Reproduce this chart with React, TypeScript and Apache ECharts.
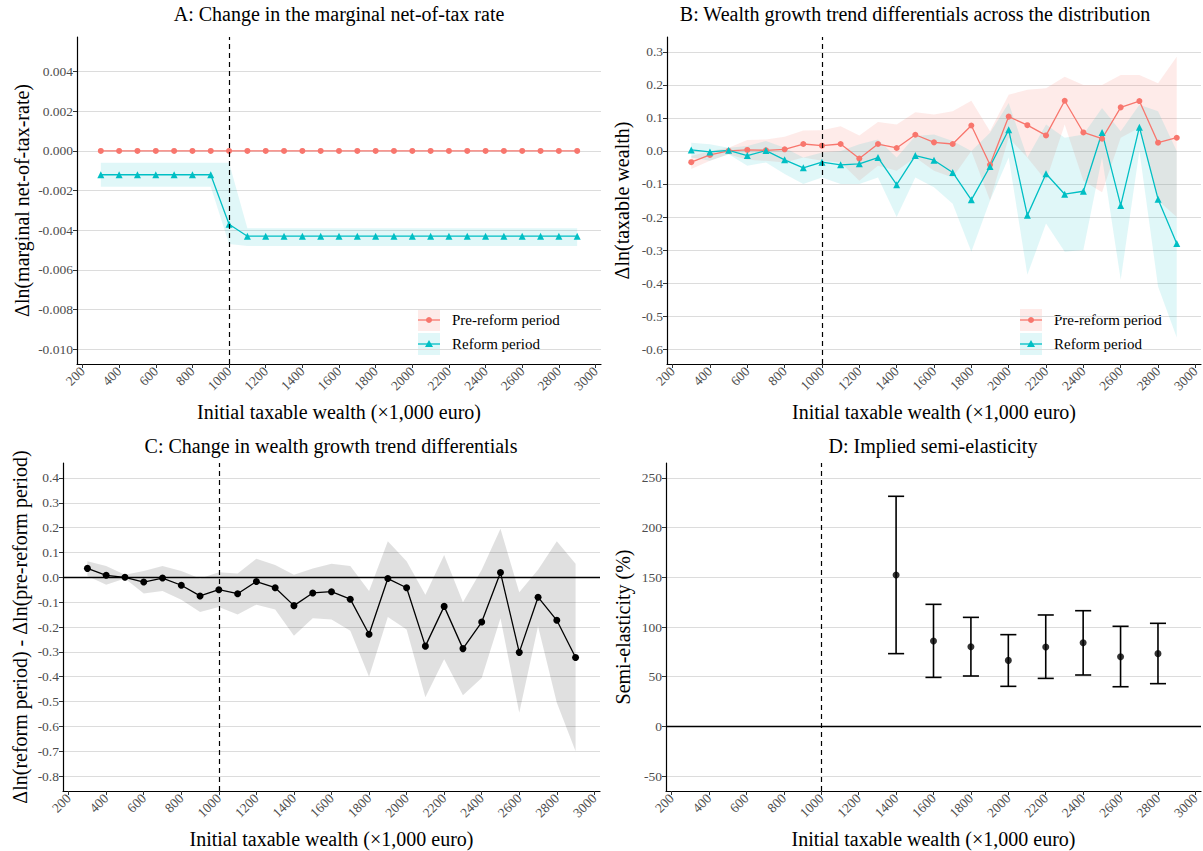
import React, { useEffect, useRef } from 'react';
import * as echarts from 'echarts';

// ---------- data ----------
const xs = [300, 400, 500, 600, 700, 800, 900, 1000, 1100, 1200, 1300, 1400, 1500, 1600, 1700, 1800, 1900, 2000, 2100, 2200, 2300, 2400, 2500, 2600, 2700, 2800, 2900];
const xTicks = [200, 400, 600, 800, 1000, 1200, 1400, 1600, 1800, 2000, 2200, 2400, 2600, 2800, 3000];

// Panel A
const preA = [0, 0, 0, 0, 0, 0, 0, 0, 0, 0, 0, 0, 0, 0, 0, 0, 0, 0, 0, 0, 0, 0, 0, 0, 0, 0, 0];
const reformA = [-0.0012, -0.0012, -0.0012, -0.0012, -0.0012, -0.0012, -0.0012, -0.0037, -0.0043, -0.0043, -0.0043, -0.0043, -0.0043, -0.0043, -0.0043, -0.0043, -0.0043, -0.0043, -0.0043, -0.0043, -0.0043, -0.0043, -0.0043, -0.0043, -0.0043, -0.0043, -0.0043];
const reformAHi = [-0.0006, -0.0006, -0.0006, -0.0006, -0.0006, -0.0006, -0.0006, -0.0006, -0.0039, -0.0039, -0.0039, -0.0039, -0.0039, -0.0039, -0.0039, -0.0039, -0.0039, -0.0039, -0.0039, -0.0039, -0.0039, -0.0039, -0.0039, -0.0039, -0.0039, -0.0039, -0.0039];
const reformALo = [-0.0018, -0.0018, -0.0018, -0.0018, -0.0018, -0.0018, -0.0018, -0.0047, -0.0048, -0.0048, -0.0048, -0.0048, -0.0048, -0.0048, -0.0048, -0.0048, -0.0048, -0.0048, -0.0048, -0.0048, -0.0048, -0.0048, -0.0048, -0.0048, -0.0048, -0.0048, -0.0048];
const yTicksA = [-0.01, -0.008, -0.006, -0.004, -0.002, 0, 0.002, 0.004];

// Panel B
const preB = [-0.034, -0.012, 0.0, 0.003, 0.002, 0.005, 0.021, 0.016, 0.021, -0.023, 0.021, 0.009, 0.049, 0.026, 0.021, 0.077, -0.042, 0.104, 0.078, 0.047, 0.152, 0.056, 0.037, 0.132, 0.151, 0.025, 0.04];
const preBHi = [-0.015, 0.0, 0.01, 0.033, 0.035, 0.043, 0.062, 0.063, 0.075, 0.047, 0.088, 0.08, 0.117, 0.11, 0.12, 0.152, 0.06, 0.17, 0.185, 0.19, 0.225, 0.2, 0.2, 0.23, 0.23, 0.205, 0.285];
const preBLo = [-0.055, -0.03, -0.01, -0.027, -0.03, -0.035, -0.02, -0.03, -0.035, -0.09, -0.045, -0.06, -0.02, -0.06, -0.08, 0.0, -0.15, 0.04, -0.02, -0.09, 0.08, -0.09, -0.125, 0.04, 0.07, -0.15, -0.2];
const reformB = [0.003, -0.003, 0.002, -0.014, 0.001, -0.027, -0.051, -0.034, -0.042, -0.039, -0.02, -0.102, -0.014, -0.028, -0.065, -0.148, -0.047, 0.064, -0.195, -0.069, -0.131, -0.122, 0.056, -0.165, 0.072, -0.146, -0.28];
const reformBHi = [0.025, 0.02, 0.01, 0.015, 0.03, 0.01, -0.02, -0.005, 0.0, 0.02, 0.035, -0.02, 0.045, 0.05, 0.03, 0.0, 0.055, 0.145, -0.02, 0.08, 0.04, 0.05, 0.13, 0.06, 0.14, 0.12, 0.0];
const reformBLo = [-0.02, -0.03, -0.01, -0.045, -0.035, -0.07, -0.1, -0.08, -0.1, -0.1, -0.08, -0.2, -0.08, -0.11, -0.16, -0.305, -0.15, -0.02, -0.375, -0.22, -0.305, -0.3, -0.02, -0.39, 0.0, -0.41, -0.565];
const yTicksB = [-0.6, -0.5, -0.4, -0.3, -0.2, -0.1, 0, 0.1, 0.2, 0.3];

// Panel C
const diffC = [0.036, 0.008, 0.0, -0.019, -0.003, -0.032, -0.075, -0.05, -0.066, -0.017, -0.042, -0.114, -0.063, -0.058, -0.088, -0.229, -0.005, -0.042, -0.277, -0.117, -0.287, -0.18, 0.019, -0.302, -0.08, -0.173, -0.323];
const diffCHi = [0.065, 0.045, 0.01, 0.025, 0.045, 0.025, -0.005, 0.02, 0.015, 0.075, 0.05, 0.01, 0.035, 0.055, 0.045, -0.055, 0.145, 0.065, -0.07, 0.09, -0.1, 0.03, 0.195, -0.06, 0.03, 0.145, 0.055];
const diffCLo = [0.005, -0.03, -0.005, -0.065, -0.055, -0.09, -0.14, -0.12, -0.15, -0.11, -0.13, -0.235, -0.165, -0.17, -0.215, -0.4, -0.16, -0.21, -0.483, -0.33, -0.475, -0.405, -0.165, -0.545, -0.197, -0.505, -0.7];
const yTicksC = [-0.8, -0.7, -0.6, -0.5, -0.4, -0.3, -0.2, -0.1, 0, 0.1, 0.2, 0.3, 0.4];

// Panel D
const xsD = [1400, 1600, 1800, 2000, 2200, 2400, 2600, 2800];
const elastD = [152.3, 85.9, 80.2, 66.4, 79.9, 84.2, 70.1, 73.2];
const elastDHi = [231.5, 122.8, 109.7, 92.3, 112.1, 116.4, 100.7, 103.7];
const elastDLo = [73.2, 49.3, 50.7, 40.3, 48.3, 51.7, 39.9, 43.0];
const yTicksD = [-50, 0, 50, 100, 150, 200, 250];

// ---------- styling ----------
const FONT = '"Liberation Serif", "Times New Roman", serif';
const RED = '#F8766D';
const CYAN = '#00BFC4';
const RED_FILL = 'rgba(248,118,109,0.15)';
const CYAN_FILL = 'rgba(0,191,196,0.12)';
const GREY_FILL = 'rgba(0,0,0,0.12)';
const X_NAME = 'Initial taxable wealth (×1,000 euro)';

const grids = [
  { left: 77, top: 37, width: 524, height: 327 },
  { left: 667, top: 37, width: 534, height: 327 },
  { left: 63, top: 463, width: 537, height: 328 },
  { left: 666, top: 463, width: 535, height: 328 },
];

function xAxisOf(i: number) {
  return {
    type: 'value', gridIndex: i, min: 170, max: 3030,
    name: X_NAME, nameLocation: 'middle', nameGap: 38,
    nameTextStyle: { fontFamily: FONT, fontSize: 20, color: '#000' },
    axisLine: { onZero: false, lineStyle: { color: '#000', width: 1.2 } },
    axisTick: { show: true, length: 4, customValues: xTicks, lineStyle: { color: '#333', width: 1 } },
    axisLabel: {
      customValues: xTicks, rotate: 45, margin: 5, fontFamily: FONT, fontSize: 13.5, color: '#4d4d4d',
      formatter: (v: number) => String(v),
    },
    splitLine: { show: false },
  };
}

function yAxisOf(i: number, min: number, max: number, ticks: number[], name: string, gap: number, digits: number) {
  return {
    type: 'value', gridIndex: i, min, max,
    name, nameLocation: 'middle', nameGap: gap,
    nameTextStyle: { fontFamily: FONT, fontSize: 20, color: '#000' },
    axisLine: { show: true, onZero: false, lineStyle: { color: '#000', width: 1.2 } },
    axisTick: { show: true, length: 4, customValues: ticks, lineStyle: { color: '#333', width: 1 } },
    axisLabel: {
      customValues: ticks, margin: 4, fontFamily: FONT, fontSize: 13.5, color: '#4d4d4d',
      formatter: (v: number) => v.toFixed(digits),
    },
    splitLine: { show: true, lineStyle: { color: '#dcdcdc', width: 1.2 } },
  };
}

function band(i: number, x: number[], lo: number[], hi: number[], fill: string) {
  return {
    type: 'custom', xAxisIndex: i, yAxisIndex: i, silent: true, z: 1,
    data: x.map((v, k) => [v, lo[k], hi[k]]),
    encode: { x: 0, y: [1, 2] },
    renderItem: (params: any, api: any) => {
      if (params.dataIndex !== 0) return null;
      const pts: number[][] = [];
      for (let k = 0; k < x.length; k++) pts.push(api.coord([x[k], hi[k]]));
      for (let k = x.length - 1; k >= 0; k--) pts.push(api.coord([x[k], lo[k]]));
      return { type: 'polygon', shape: { points: pts }, style: { fill, stroke: 'none' } };
    },
  };
}

function vline() {
  return {
    symbol: 'none', silent: true, label: { show: false },
    lineStyle: { color: '#000', width: 1.2, type: [5, 4] },
    data: [{ xAxis: 1000 }],
  };
}

function lineSeries(i: number, x: number[], y: number[], color: string, symbol: string, size: number, extra: any = {}) {
  return {
    type: 'line', xAxisIndex: i, yAxisIndex: i, z: 3,
    data: x.map((v, k) => [v, y[k]]),
    symbol, symbolSize: size, showSymbol: true,
    itemStyle: { color }, lineStyle: { color, width: 1.3 },
    ...extra,
  };
}

function legendGraphic(kx: number) {
  const ty1 = 320, ty2 = 344;
  return [
    { type: 'rect', shape: { x: kx, y: 309, width: 22, height: 22 }, style: { fill: RED_FILL } },
    { type: 'line', shape: { x1: kx, y1: ty1, x2: kx + 22, y2: ty1 }, style: { stroke: RED, lineWidth: 1.3 } },
    { type: 'circle', shape: { cx: kx + 11, cy: ty1, r: 3 }, style: { fill: RED } },
    { type: 'text', x: kx + 34, y: ty1, style: { text: 'Pre-reform period', font: `15px ${FONT}`, fill: '#000', textVerticalAlign: 'middle' } },
    { type: 'rect', shape: { x: kx, y: 333, width: 22, height: 22 }, style: { fill: CYAN_FILL } },
    { type: 'line', shape: { x1: kx, y1: ty2, x2: kx + 22, y2: ty2 }, style: { stroke: CYAN, lineWidth: 1.3 } },
    { type: 'polygon', shape: { points: [[kx + 11, ty2 - 4], [kx + 15, ty2 + 3], [kx + 7, ty2 + 3]] }, style: { fill: CYAN } },
    { type: 'text', x: kx + 34, y: ty2, style: { text: 'Reform period', font: `15px ${FONT}`, fill: '#000', textVerticalAlign: 'middle' } },
  ];
}

function titleText(text: string, cx: number, cy: number) {
  return { type: 'text', x: cx, y: cy, style: { text, font: `20px ${FONT}`, fill: '#000', textAlign: 'center', textVerticalAlign: 'middle' } };
}

export default function App() {
  const ref = useRef<HTMLDivElement>(null);
  useEffect(() => {
    if (!ref.current) return;
    const chart = echarts.init(ref.current, undefined, { renderer: 'svg' });
    const option: any = {
      animation: false,
      backgroundColor: '#fff',
      grid: grids,
      xAxis: [xAxisOf(0), xAxisOf(1), xAxisOf(2), xAxisOf(3)],
      yAxis: [
        yAxisOf(0, -0.01075, 0.00575, yTicksA, 'Δln(marginal net-of-tax-rate)', 45, 3),
        yAxisOf(1, -0.645, 0.345, yTicksB, 'Δln(taxable wealth)', 35, 1),
        yAxisOf(2, -0.86, 0.46, yTicksC, 'Δln(reform period) - Δln(pre-reform period)', 33, 1),
        yAxisOf(3, -65, 265, yTicksD, 'Semi-elasticity (%)', 33, 0),
      ],
      series: [
        // A
        band(0, xs, reformALo, reformAHi, CYAN_FILL),
        lineSeries(0, xs, preA, RED, 'circle', 6, { markLine: vline() }),
        lineSeries(0, xs, reformA, CYAN, 'triangle', 7),
        // B
        band(1, xs, preBLo, preBHi, RED_FILL),
        band(1, xs, reformBLo, reformBHi, CYAN_FILL),
        lineSeries(1, xs, preB, RED, 'circle', 6, { markLine: vline() }),
        lineSeries(1, xs, reformB, CYAN, 'triangle', 7),
        // C
        band(2, xs, diffCLo, diffCHi, GREY_FILL),
        lineSeries(2, xs, diffC, '#000', 'circle', 7, {
          markLine: {
            symbol: 'none', silent: true, label: { show: false },
            data: [
              { xAxis: 1000, lineStyle: { color: '#000', width: 1.2, type: [5, 4] } },
              { yAxis: 0, lineStyle: { color: '#000', width: 1.3, type: 'solid' } },
            ],
          },
        }),
        // D
        {
          type: 'custom', xAxisIndex: 3, yAxisIndex: 3, z: 3, silent: true,
          data: xsD.map((v, k) => [v, elastDLo[k], elastDHi[k]]),
          encode: { x: 0, y: [1, 2] },
          renderItem: (params: any, api: any) => {
            const x = api.value(0), lo = api.value(1), hi = api.value(2);
            const top = api.coord([x, hi]);
            const bot = api.coord([x, lo]);
            const l = api.coord([x - 43, hi])[0];
            const r = api.coord([x + 43, hi])[0];
            const st = { stroke: '#000', lineWidth: 1.6 };
            return {
              type: 'group', children: [
                { type: 'line', shape: { x1: top[0], y1: top[1], x2: bot[0], y2: bot[1] }, style: st },
                { type: 'line', shape: { x1: l, y1: top[1], x2: r, y2: top[1] }, style: st },
                { type: 'line', shape: { x1: l, y1: bot[1], x2: r, y2: bot[1] }, style: st },
              ],
            };
          },
        },
        {
          type: 'scatter', xAxisIndex: 3, yAxisIndex: 3, z: 4, symbol: 'circle', symbolSize: 7,
          itemStyle: { color: '#000' },
          data: xsD.map((v, k) => [v, elastD[k]]),
          markLine: {
            symbol: 'none', silent: true, label: { show: false },
            data: [
              { xAxis: 1000, lineStyle: { color: '#000', width: 1.2, type: [5, 4] } },
              { yAxis: 0, lineStyle: { color: '#000', width: 1.3, type: 'solid' } },
            ],
          },
        },
      ],
      graphic: [
        titleText('A: Change in the marginal net-of-tax rate', 339, 14),
        titleText('B: Wealth growth trend differentials across the distribution', 915, 14),
        titleText('C: Change in wealth growth trend differentials', 331, 446),
        titleText('D: Implied semi-elasticity', 933, 446),
        ...legendGraphic(418),
        ...legendGraphic(1020),
      ],
    };
    chart.setOption(option);
    return () => chart.dispose();
  }, []);
  return <div ref={ref} style={{ position: 'fixed', left: 0, top: 0, width: 1203, height: 851, background: '#fff' }} />;
}
